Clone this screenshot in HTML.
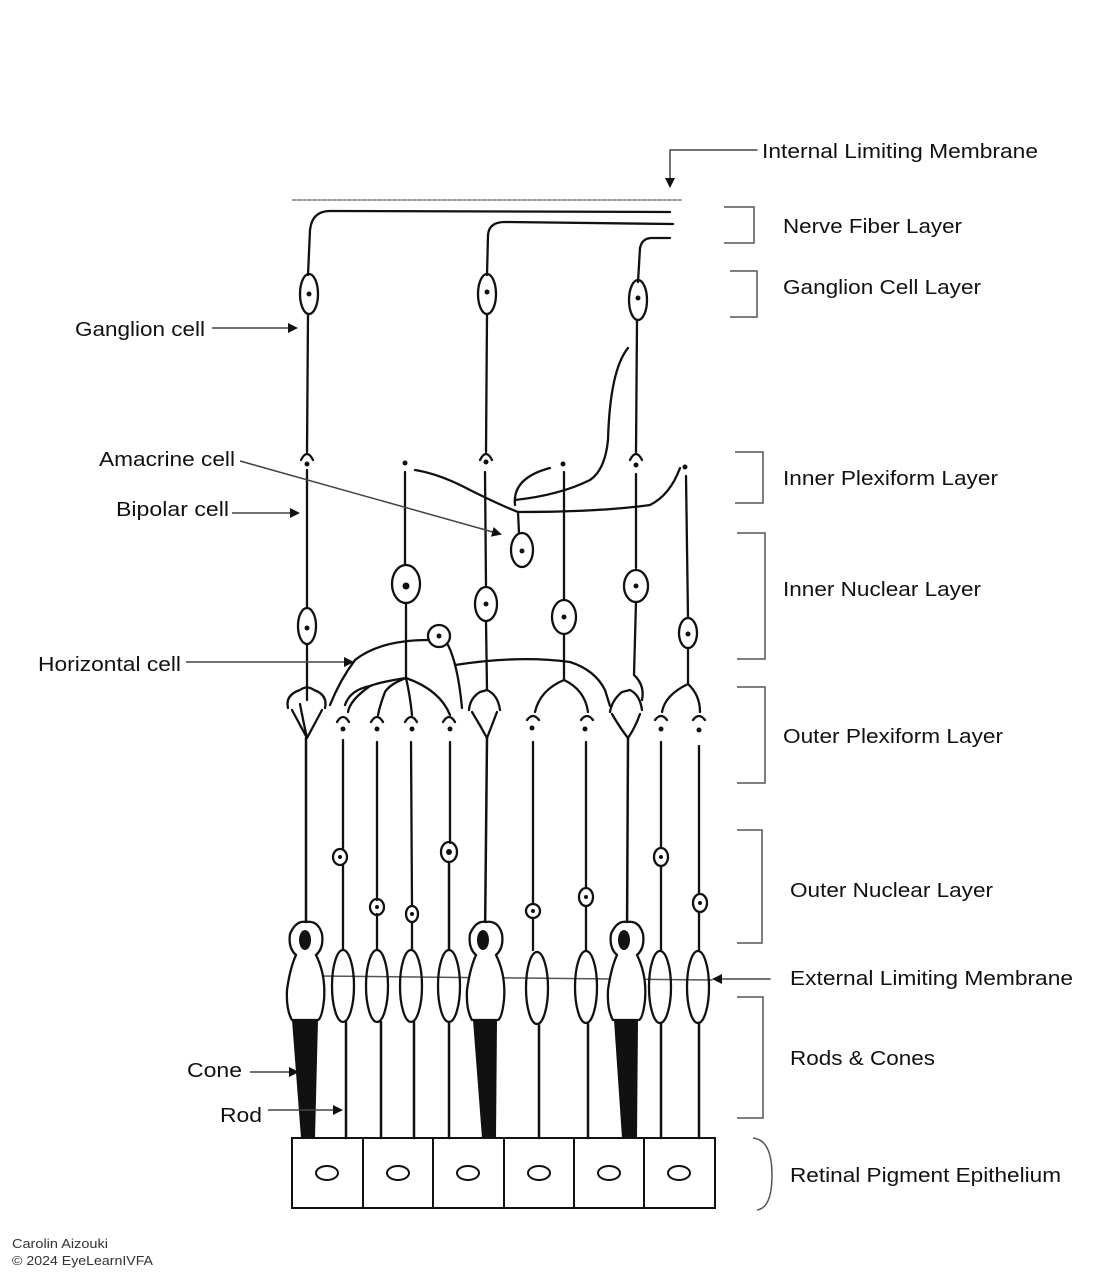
<!DOCTYPE html>
<html><head><meta charset="utf-8"><style>
html,body{margin:0;padding:0;background:#fff;}
svg{display:block;}
text{font-family:"Liberation Sans",sans-serif;font-size:20.5px;fill:#111;}
</style></head><body>
<svg width="1112" height="1278" viewBox="0 0 1112 1278" xmlns="http://www.w3.org/2000/svg">
<defs>
<marker id="ah" markerWidth="10" markerHeight="10" refX="8" refY="5" orient="auto" markerUnits="userSpaceOnUse"><path d="M0,0 L10,5 L0,10 Z" fill="#111"/></marker>
</defs>
<g fill="none" stroke="#111" stroke-width="2.3" stroke-linecap="round">
<line x1="293" y1="200" x2="683" y2="200" stroke="#999" stroke-width="2" stroke-dasharray="3,2"/>
<polyline points="757,150 670,150 670,186" stroke="#444" stroke-width="1.5" marker-end="url(#ah)"/>
<path d="M308,275 L310,230 Q312,211 330,211 L670,212"/>
<path d="M487,275 L488,235 Q489,222 505,222 L673,224"/>
<path d="M638,282 L640,248 Q642,238 652,238 L670,238"/>
<ellipse cx="309" cy="294" rx="9" ry="20"/>
<ellipse cx="487" cy="294" rx="9" ry="20"/>
<ellipse cx="638" cy="300" rx="9" ry="20"/>
<line x1="308" y1="314" x2="307" y2="452"/>
<line x1="487" y1="314" x2="486" y2="452"/>
<line x1="637" y1="320" x2="636" y2="452"/>
<path d="M301,460 Q307,448 313,460"/>
<path d="M480,460 Q486,448 492,460"/>
<path d="M630,460 Q636,448 642,460"/>
<line x1="307" y1="470" x2="307" y2="608"/>
<line x1="405" y1="472" x2="405" y2="565"/>
<line x1="485" y1="472" x2="486" y2="586"/>
<line x1="564" y1="472" x2="564" y2="599"/>
<line x1="636" y1="474" x2="636" y2="568"/>
<line x1="686" y1="476" x2="688" y2="618"/>
<ellipse cx="307" cy="626" rx="9" ry="18"/>
<ellipse cx="406" cy="584" rx="14" ry="19"/>
<ellipse cx="486" cy="604" rx="11" ry="17"/>
<ellipse cx="564" cy="617" rx="12" ry="17"/>
<ellipse cx="636" cy="586" rx="12" ry="16"/>
<ellipse cx="688" cy="633" rx="9" ry="15"/>
<line x1="307" y1="644" x2="307" y2="700"/>
<line x1="406" y1="603" x2="406" y2="678"/>
<line x1="486" y1="621" x2="487" y2="690"/>
<line x1="564" y1="634" x2="564" y2="680"/>
<path d="M636,602 L634,675 Q645,685 642,700"/>
<line x1="688" y1="648" x2="688" y2="684"/>
<path d="M406,678 Q380,682 370,686 Q350,690 345,705 M370,686 Q350,700 348,712"/>
<path d="M406,678 Q390,684 385,692 Q380,705 378,715 M406,678 Q410,695 412,715 M406,678 Q440,690 450,715"/>
<path d="M564,680 Q540,690 535,712 M564,680 Q585,690 588,712"/>
<path d="M688,684 Q665,695 662,712 M688,684 Q700,695 700,712"/>
<ellipse cx="522" cy="550" rx="11" ry="17"/>
<path d="M519,533 L518,512 Q500,505 470,490 Q440,474 415,470"/>
<path d="M518,512 Q600,512 650,505 Q670,495 680,468"/>
<path d="M515,505 Q512,478 550,468"/>
<path d="M515,500 Q560,495 590,480 Q605,470 608,440 Q610,370 628,348"/>
<circle cx="439" cy="636" r="11"/>
<path d="M429,640 Q380,640 355,660 Q340,680 330,705"/>
<path d="M448,645 Q458,665 462,708"/>
<path d="M455,665 Q520,655 570,662 Q595,670 605,690 L610,706"/>
<path d="M288,708 Q285,695 300,690 Q307,685 314,690 Q328,695 325,708"/>
<path d="M292,710 Q300,725 307,738 M322,710 Q314,725 307,738 M300,704 Q303,720 307,738"/>
<path d="M469,710 Q470,698 480,692 L487,690 Q498,695 500,710"/>
<path d="M472,712 Q480,725 487,738 M497,712 Q492,725 487,738"/>
<path d="M610,712 Q612,700 622,692 L630,690 Q640,695 642,710"/>
<path d="M612,714 Q620,728 628,738 M640,714 Q635,728 628,738"/>
<path d="M337,722 Q343,712 349,722"/><path d="M371,722 Q377,712 383,722"/>
<path d="M405,722 Q411,712 417,722"/><path d="M443,722 Q449,712 455,722"/>
<path d="M527,720 Q533,712 539,720"/><path d="M581,720 Q587,712 593,720"/>
<path d="M655,720 Q661,712 667,720"/><path d="M693,720 Q699,712 705,720"/>
<line x1="306" y1="738" x2="306" y2="938" stroke-width="2.5"/>
<line x1="487" y1="738" x2="485" y2="938" stroke-width="2.5"/>
<line x1="628" y1="738" x2="627" y2="938" stroke-width="2.5"/>
<line x1="343" y1="740" x2="343" y2="849"/><line x1="343" y1="865" x2="343" y2="950"/>
<line x1="377" y1="742" x2="377" y2="900"/><line x1="377" y1="914" x2="377" y2="950"/>
<line x1="411" y1="742" x2="412" y2="906"/><line x1="412" y1="922" x2="412" y2="950"/>
<line x1="450" y1="742" x2="450" y2="843"/><line x1="449" y1="862" x2="449" y2="950" stroke-width="2.5"/>
<line x1="533" y1="742" x2="533" y2="904"/><line x1="533" y1="918" x2="533" y2="950"/>
<line x1="586" y1="742" x2="586" y2="888"/><line x1="586" y1="906" x2="586" y2="950"/>
<line x1="661" y1="742" x2="661" y2="848"/><line x1="661" y1="866" x2="661" y2="950"/>
<line x1="699" y1="746" x2="699" y2="894"/><line x1="699" y1="912" x2="699" y2="950"/>
<ellipse cx="340" cy="857" rx="7" ry="8"/>
<ellipse cx="377" cy="907" rx="7" ry="8"/>
<ellipse cx="412" cy="914" rx="6" ry="8"/>
<ellipse cx="449" cy="852" rx="8" ry="10"/>
<ellipse cx="533" cy="911" rx="7" ry="7"/>
<ellipse cx="586" cy="897" rx="7" ry="9"/>
<ellipse cx="661" cy="857" rx="7" ry="9"/>
<ellipse cx="700" cy="903" rx="7" ry="9"/>
<line x1="318" y1="976" x2="712" y2="980" stroke="#555" stroke-width="1.5"/>
<line x1="770" y1="979" x2="714" y2="979" stroke="#444" stroke-width="1.5" marker-end="url(#ah)"/>
<ellipse cx="343" cy="986" rx="11" ry="36"/>
<ellipse cx="377" cy="986" rx="11" ry="36"/>
<ellipse cx="411" cy="986" rx="11" ry="36"/>
<ellipse cx="449" cy="986" rx="11" ry="36"/>
<ellipse cx="537" cy="988" rx="11" ry="36"/>
<ellipse cx="586" cy="987" rx="11" ry="36"/>
<ellipse cx="660" cy="987" rx="11" ry="36"/>
<ellipse cx="698" cy="987" rx="11" ry="36"/>
<line x1="346" y1="1022" x2="346" y2="1138" stroke-width="2.5"/>
<line x1="381" y1="1022" x2="381" y2="1138" stroke-width="2.5"/>
<line x1="414" y1="1022" x2="414" y2="1138" stroke-width="2.5"/>
<line x1="449" y1="1022" x2="449" y2="1138" stroke-width="2.5"/>
<line x1="539" y1="1024" x2="539" y2="1138" stroke-width="2.5"/>
<line x1="588" y1="1024" x2="588" y2="1138" stroke-width="2.5"/>
<line x1="661" y1="1024" x2="661" y2="1138" stroke-width="2.5"/>
<line x1="699" y1="1024" x2="699" y2="1138" stroke-width="2.5"/>
<path d="M296,955 Q288,948 290,934 Q296,920 306,922 Q318,920 322,934 Q324,948 316,955 Q326,975 324,1000 Q322,1018 318,1020 L292,1020 Q286,1010 287,990 Q290,968 296,955 Z" fill="#fff"/>
<path d="M476,955 Q468,948 470,934 Q476,920 486,922 Q498,920 502,934 Q504,948 496,955 Q506,975 504,1000 Q502,1018 498,1020 L472,1020 Q466,1010 467,990 Q470,968 476,955 Z" fill="#fff"/>
<path d="M617,955 Q609,948 611,934 Q617,920 627,922 Q639,920 643,934 Q645,948 637,955 Q647,975 645,1000 Q643,1018 639,1020 L613,1020 Q607,1010 608,990 Q611,968 617,955 Z" fill="#fff"/>
</g>
<g fill="#111">
<ellipse cx="305" cy="940" rx="6" ry="10"/>
<ellipse cx="483" cy="940" rx="6" ry="10"/>
<ellipse cx="624" cy="940" rx="6" ry="10"/>
<path d="M292,1020 L318,1020 L315,1138 L301,1138 Z"/>
<path d="M473,1020 L497,1020 L496,1138 L482,1138 Z"/>
<path d="M614,1020 L638,1020 L637,1138 L622,1138 Z"/>
<circle cx="309" cy="294" r="2.5"/><circle cx="487" cy="292" r="2.5"/><circle cx="638" cy="298" r="2.5"/>
<circle cx="307" cy="628" r="2.5"/><circle cx="406" cy="586" r="3.5"/><circle cx="486" cy="604" r="2.5"/>
<circle cx="564" cy="617" r="2.5"/><circle cx="636" cy="586" r="2.5"/><circle cx="688" cy="634" r="2.5"/>
<circle cx="522" cy="551" r="2.5"/><circle cx="439" cy="636" r="2.5"/>
<circle cx="340" cy="857" r="2"/><circle cx="377" cy="907" r="2"/><circle cx="412" cy="914" r="2"/><circle cx="449" cy="852" r="3"/>
<circle cx="533" cy="911" r="2"/><circle cx="586" cy="897" r="2"/><circle cx="661" cy="857" r="2"/><circle cx="700" cy="903" r="2"/>
<circle cx="307" cy="464" r="2.5"/><circle cx="405" cy="463" r="2.5"/><circle cx="486" cy="462" r="2.5"/>
<circle cx="563" cy="464" r="2.5"/><circle cx="636" cy="465" r="2.5"/><circle cx="685" cy="467" r="2.5"/>
<circle cx="343" cy="729" r="2.5"/><circle cx="377" cy="729" r="2.5"/><circle cx="412" cy="729" r="2.5"/><circle cx="450" cy="729" r="2.5"/>
<circle cx="532" cy="728" r="2.5"/><circle cx="585" cy="729" r="2.5"/><circle cx="661" cy="729" r="2.5"/><circle cx="699" cy="730" r="2.5"/>
</g>
<g fill="none" stroke="#111" stroke-width="2">
<rect x="292" y="1138" width="423" height="70"/>
<line x1="363" y1="1138" x2="363" y2="1208"/><line x1="433" y1="1138" x2="433" y2="1208"/>
<line x1="504" y1="1138" x2="504" y2="1208"/><line x1="574" y1="1138" x2="574" y2="1208"/>
<line x1="644" y1="1138" x2="644" y2="1208"/>
<ellipse cx="327" cy="1173" rx="11" ry="7"/><ellipse cx="398" cy="1173" rx="11" ry="7"/>
<ellipse cx="468" cy="1173" rx="11" ry="7"/><ellipse cx="539" cy="1173" rx="11" ry="7"/>
<ellipse cx="609" cy="1173" rx="11" ry="7"/><ellipse cx="679" cy="1173" rx="11" ry="7"/>
</g>
<g fill="none" stroke="#555" stroke-width="1.5">
<polyline points="724,207 754,207 754,243 724,243"/>
<polyline points="730,271 757,271 757,317 730,317"/>
<polyline points="735,452 763,452 763,503 735,503"/>
<polyline points="737,533 765,533 765,659 737,659"/>
<polyline points="737,687 765,687 765,783 737,783"/>
<polyline points="737,830 762,830 762,943 737,943"/>
<polyline points="737,997 763,997 763,1118 737,1118"/>
<path d="M753,1138 Q772,1140 772,1175 Q772,1208 757,1210"/>
</g>
<g stroke="#444" stroke-width="1.5" fill="none">
<line x1="212" y1="328" x2="296" y2="328" marker-end="url(#ah)"/>
<line x1="240" y1="461" x2="500" y2="534" marker-end="url(#ah)"/>
<line x1="232" y1="513" x2="298" y2="513" marker-end="url(#ah)"/>
<line x1="186" y1="662" x2="352" y2="662" marker-end="url(#ah)"/>
<line x1="250" y1="1072" x2="297" y2="1072" marker-end="url(#ah)"/>
<line x1="268" y1="1110" x2="341" y2="1110" marker-end="url(#ah)"/>
</g>
<text x="75" y="336" textLength="130" lengthAdjust="spacingAndGlyphs">Ganglion cell</text>
<text x="99" y="466" textLength="136" lengthAdjust="spacingAndGlyphs">Amacrine cell</text>
<text x="116" y="516" textLength="113" lengthAdjust="spacingAndGlyphs">Bipolar cell</text>
<text x="38" y="671" textLength="143" lengthAdjust="spacingAndGlyphs">Horizontal cell</text>
<text x="187" y="1077" textLength="55" lengthAdjust="spacingAndGlyphs">Cone</text>
<text x="220" y="1122" textLength="42" lengthAdjust="spacingAndGlyphs">Rod</text>
<text x="762" y="158" textLength="276" lengthAdjust="spacingAndGlyphs">Internal Limiting Membrane</text>
<text x="783" y="233" textLength="179" lengthAdjust="spacingAndGlyphs">Nerve Fiber Layer</text>
<text x="783" y="294" textLength="198" lengthAdjust="spacingAndGlyphs">Ganglion Cell Layer</text>
<text x="783" y="485" textLength="215" lengthAdjust="spacingAndGlyphs">Inner Plexiform Layer</text>
<text x="783" y="596" textLength="198" lengthAdjust="spacingAndGlyphs">Inner Nuclear Layer</text>
<text x="783" y="743" textLength="220" lengthAdjust="spacingAndGlyphs">Outer Plexiform Layer</text>
<text x="790" y="897" textLength="203" lengthAdjust="spacingAndGlyphs">Outer Nuclear Layer</text>
<text x="790" y="985" textLength="283" lengthAdjust="spacingAndGlyphs">External Limiting Membrane</text>
<text x="790" y="1065" textLength="145" lengthAdjust="spacingAndGlyphs">Rods &amp; Cones</text>
<text x="790" y="1182" textLength="271" lengthAdjust="spacingAndGlyphs">Retinal Pigment Epithelium</text>
<text x="12" y="1248" style="font-size:13px;fill:#333" textLength="96" lengthAdjust="spacingAndGlyphs">Carolin Aizouki</text>
<text x="12" y="1265" style="font-size:13px;fill:#333" textLength="141" lengthAdjust="spacingAndGlyphs">© 2024 EyeLearnIVFA</text>
</svg>
</body></html>
